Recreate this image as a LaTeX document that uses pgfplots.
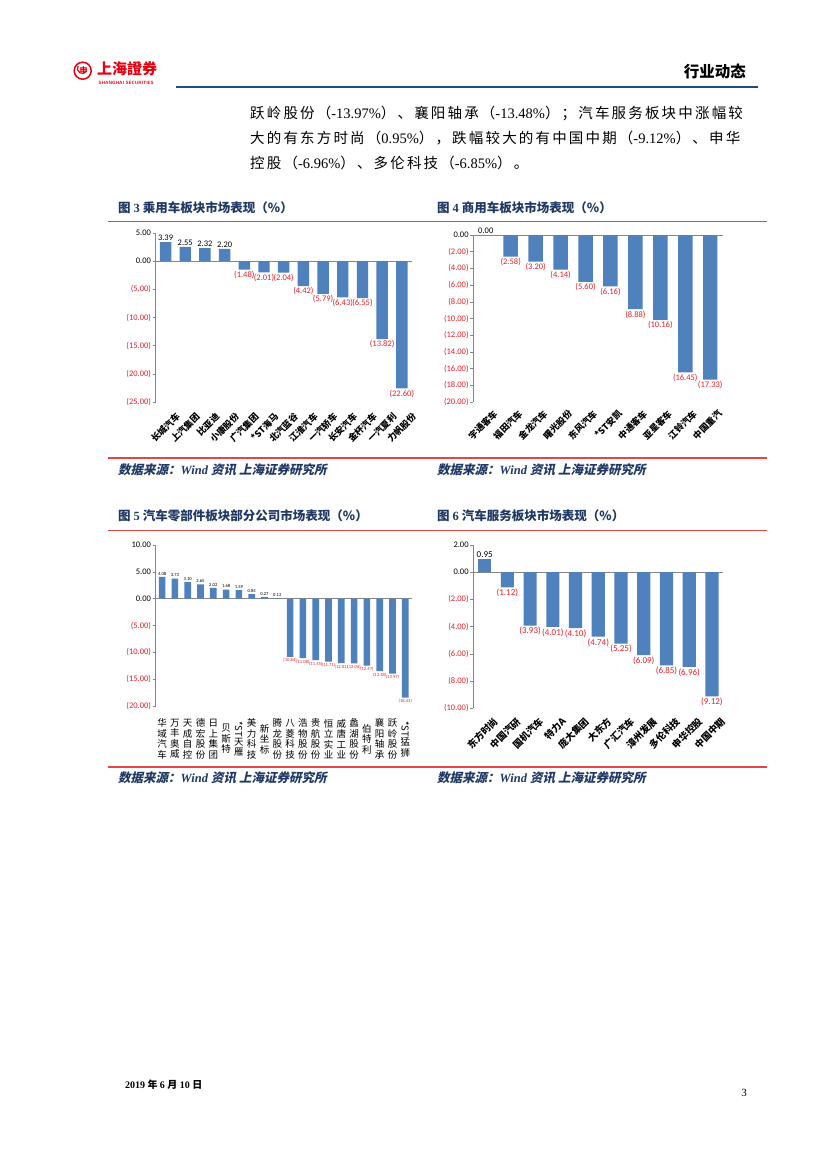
\documentclass[border=0pt]{standalone}
\usepackage{fontspec}
\setmainfont{Liberation Serif}
\newfontfamily\cjk{Noto Sans CJK SC}
\newfontfamily\cjkb{Noto Sans CJK SC}[LetterSpace=15]
\newfontfamily\cjksl{Noto Sans CJK SC}[FakeSlant=0.22]
\newfontfamily\numf{Carlito}
\usepackage{graphicx}
\usepackage{pgfplots}
\pgfplotsset{compat=1.18}

\definecolor{barblue}{HTML}{4F81BD}
\definecolor{negred}{HTML}{E8202A}
\definecolor{axgray}{HTML}{868686}
\definecolor{navy}{HTML}{1F3864}
\definecolor{linered}{HTML}{E04848}
\definecolor{hdrblue}{HTML}{1F4E79}
\definecolor{logored}{HTML}{E60012}

\newcommand\N[1]{\textcolor{negred}{(#1)}}

\pgfplotsset{
  sbar/.style={
    scale only axis, anchor=south west, clip=false,
    axis lines=left,
    axis line style={-, draw=axgray, line width=0.6pt},
    x axis line style={draw=none},
    xtick style={draw=none},
    ytick style={draw=axgray, line width=0.6pt},
    tick align=outside, major tick length=3pt,
    yticklabel style={font=\numf\fontsize{8.5}{10}\selectfont, inner sep=1.5pt},
    xticklabel style={font=\cjk\bfseries\fontsize{9}{10}\selectfont, inner sep=1pt},
  },
  zl/.style={draw=axgray, line width=0.6pt, forget plot},
  pos/.style={ybar, bar width=0.58, bar shift=0pt, fill=barblue, draw=none,
    point meta=explicit symbolic, nodes near coords={\pgfplotspointmeta},
    nodes near coords style={font=\numf\fontsize{8.5}{10}\selectfont, text=black, anchor=south, inner sep=1.5pt}},
  neg/.style={ybar, bar width=0.58, bar shift=0pt, fill=barblue, draw=none,
    point meta=explicit symbolic, nodes near coords={\pgfplotspointmeta},
    nodes near coords style={font=\numf\fontsize{8.5}{10}\selectfont, text=negred, anchor=north, inner sep=1.5pt}},
}

\begin{document}
\begin{tikzpicture}
\path[use as bounding box, fill=white] (0,0) rectangle (827pt,-1169pt);

% ---------- header ----------
\draw[logored, line width=1.5pt] (82.7pt,-70.7pt) circle (8.5pt);
\draw[logored, line width=1.2pt] (78pt,-66pt) arc (150:330:5pt);
\node[logored, inner sep=0] at (83.5pt,-70pt) {\cjk\bfseries\fontsize{8}{8}\selectfont 申};
\node[anchor=west, logored, inner sep=0] at (97pt,-68.5pt) {\cjk\bfseries\fontsize{15}{15}\selectfont 上海證券};
\node[anchor=west, logored, inner sep=0] at (98.5pt,-82.5pt) {\sffamily\bfseries\fontsize{4.6}{5}\selectfont SHANGHAI SECURITIES};
\node[anchor=east, inner sep=0] at (746pt,-72pt) {\cjk\bfseries\fontsize{15.5}{16}\selectfont 行业动态};
\draw[hdrblue, line width=2.6pt] (176pt,-87pt) -- (758pt,-87pt);

% ---------- body text ----------
\node[anchor=west, inner sep=0] at (250pt,-113pt) {\fontsize{14.5}{16}\selectfont\cjkb 跃岭股份（\rmfamily -13.97\%\cjkb ）、襄阳轴承（\rmfamily -13.48\%\cjkb ）；汽车服务板块中涨幅较};
\node[anchor=west, inner sep=0] at (250pt,-138pt) {\fontsize{14.5}{16}\selectfont\cjkb 大的有东方时尚（\rmfamily 0.95\%\cjkb ），跌幅较大的有中国中期（\rmfamily -9.12\%\cjkb ）、申华};
\node[anchor=west, inner sep=0] at (250pt,-163pt) {\fontsize{14.5}{16}\selectfont\cjkb 控股（\rmfamily -6.96\%\cjkb ）、多伦科技（\rmfamily -6.85\%\cjkb ）。};

% ---------- titles, rules, sources ----------
\node[anchor=west, inner sep=0, text=navy] at (118pt,-208pt) {\fontsize{12.5}{14}\selectfont\cjk\bfseries 图 \rmfamily\bfseries 3 \cjk\bfseries 乘用车板块市场表现（\%）};
\node[anchor=west, inner sep=0, text=navy] at (437pt,-208pt) {\fontsize{12.5}{14}\selectfont\cjk\bfseries 图 \rmfamily\bfseries 4 \cjk\bfseries 商用车板块市场表现（\%）};
\node[anchor=west, inner sep=0, text=navy] at (118pt,-516pt) {\fontsize{12.5}{14}\selectfont\cjk\bfseries 图 \rmfamily\bfseries 5 \cjk\bfseries 汽车零部件板块部分公司市场表现（\%）};
\node[anchor=west, inner sep=0, text=navy] at (437pt,-516pt) {\fontsize{12.5}{14}\selectfont\cjk\bfseries 图 \rmfamily\bfseries 6 \cjk\bfseries 汽车服务板块市场表现（\%）};

\draw[linered, line width=1.4pt] (108pt,-221.5pt) -- (767pt,-221.5pt);
\draw[linered, line width=1.4pt] (108pt,-458pt) -- (767pt,-458pt);
\draw[linered, line width=1.4pt] (108pt,-530.5pt) -- (767pt,-530.5pt);
\draw[linered, line width=1.4pt] (108pt,-767pt) -- (767pt,-767pt);

\foreach \sx/\sy in {118/470, 437/470, 118/778, 437/778}{
  \node[anchor=west, inner sep=0, text=navy] at (\sx pt,-\sy pt) {\fontsize{12.5}{14}\selectfont\cjksl\bfseries 数据来源：\rmfamily\bfseries\itshape Wind \cjksl\bfseries 资讯 上海证券研究所};
}

% ---------- chart 3 ----------
\begin{axis}[sbar, at={(155.7pt,-402pt)}, width=256pt, height=169pt,
  xmin=-0.5, xmax=12.5, ymin=-25, ymax=5,
  ytick={-25,-20,-15,-10,-5,0,5},
  yticklabels={\N{25.00},\N{20.00},\N{15.00},\N{10.00},\N{5.00},0.00,5.00},
  xtick={0,...,12},
  xticklabels={长城汽车,上汽集团,比亚迪,小康股份,广汽集团,*ST海马,北汽蓝谷,江淮汽车,一汽轿车,长安汽车,金杯汽车,一汽夏利,力帆股份},
  xticklabel style={rotate=45, anchor=east, yshift=-16pt, xshift=3pt},
]
\addplot[zl] coordinates {(-0.5,0) (12.5,0)};
\addplot[pos] coordinates {(0,3.39)[3.39] (1,2.55)[2.55] (2,2.32)[2.32] (3,2.20)[2.20]};
\addplot[neg] coordinates {(4,-1.48)[(1.48)] (5,-2.01)[(2.01)] (6,-2.04)[(2.04)] (7,-4.42)[(4.42)] (8,-5.79)[(5.79)] (9,-6.43)[(6.43)] (10,-6.55)[(6.55)] (11,-13.82)[(13.82)] (12,-22.60)[(22.60)]};
\end{axis}

% ---------- chart 4 ----------
\begin{axis}[sbar, at={(473.3pt,-402pt)}, width=249.4pt, height=167pt,
  xmin=-0.5, xmax=9.5, ymin=-20, ymax=0,
  ytick={-20,-18,-16,-14,-12,-10,-8,-6,-4,-2,0},
  yticklabels={\N{20.00},\N{18.00},\N{16.00},\N{14.00},\N{12.00},\N{10.00},\N{8.00},\N{6.00},\N{4.00},\N{2.00},0.00},
  xtick={0,...,9},
  xticklabels={宇通客车,福田汽车,金龙汽车,曙光股份,东风汽车,*ST安凯,中通客车,亚星客车,江铃汽车,中国重汽},
  xticklabel style={rotate=45, anchor=east, yshift=-12pt, xshift=3pt},
]
\addplot[zl] coordinates {(-0.5,0) (9.5,0)};
\addplot[pos] coordinates {(0,0)[0.00]};
\addplot[neg] coordinates {(1,-2.58)[(2.58)] (2,-3.20)[(3.20)] (3,-4.14)[(4.14)] (4,-5.60)[(5.60)] (5,-6.16)[(6.16)] (6,-8.88)[(8.88)] (7,-10.16)[(10.16)] (8,-16.45)[(16.45)] (9,-17.33)[(17.33)]};
\end{axis}

% ---------- chart 5 ----------
\begin{axis}[sbar, at={(155.7pt,-706pt)}, width=256pt, height=161pt,
  xmin=-0.5, xmax=19.5, ymin=-20, ymax=10,
  ytick={-20,-15,-10,-5,0,5,10},
  yticklabels={\N{20.00},\N{15.00},\N{10.00},\N{5.00},0.00,5.00,10.00},
  xtick={0,...,19},
  xticklabels={{华\\域\\汽\\车},{万\\丰\\奥\\威},{天\\成\\自\\控},{德\\宏\\股\\份},{日\\上\\集\\团},{贝\\斯\\特},{\rotatebox{-90}{*ST}\\天\\雁},{美\\力\\科\\技},{新\\坐\\标},{腾\\龙\\股\\份},{八\\菱\\科\\技},{浩\\物\\股\\份},{贵\\航\\股\\份},{恒\\立\\实\\业},{威\\唐\\工\\业},{蠡\\湖\\股\\份},{伯\\特\\利},{襄\\阳\\轴\\承},{跃\\岭\\股\\份},{\rotatebox{-90}{*ST}\\猛\\狮}},
  xticklabel style={font=\cjk\fontsize{9.5}{10.5}\selectfont, align=center, anchor=center, yshift=-30pt},
  pos/.append style={nodes near coords style={font=\numf\fontsize{4.6}{5}\selectfont}},
  neg/.append style={nodes near coords style={font=\numf\fontsize{4.6}{5}\selectfont}},
]
\addplot[zl] coordinates {(-0.5,0) (19.5,0)};
\addplot[pos, bar width=0.52] coordinates {(0,4.08)[4.08] (1,3.73)[3.73] (2,3.10)[3.10] (3,2.65)[2.65] (4,2.02)[2.02] (5,1.68)[1.68] (6,1.59)[1.59] (7,0.84)[0.84] (8,0.27)[0.27] (9,0.12)[0.12]};
\addplot[neg, bar width=0.52] coordinates {(10,-10.84)[(10.84)] (11,-11.08)[(11.08)] (12,-11.45)[(11.45)] (13,-11.71)[(11.71)] (14,-12.01)[(12.01)] (15,-12.06)[(12.06)] (16,-12.47)[(12.47)] (17,-13.48)[(13.48)] (18,-13.97)[(13.97)] (19,-18.43)[(18.43)]};
\end{axis}

% ---------- chart 6 ----------
\begin{axis}[sbar, at={(473.3pt,-708.3pt)}, width=250pt, height=163.3pt,
  xmin=-0.5, xmax=10.5, ymin=-10, ymax=2,
  ytick={-10,-8,-6,-4,-2,0,2},
  yticklabels={\N{10.00},\N{8.00},\N{6.00},\N{4.00},\N{2.00},0.00,2.00},
  xtick={0,...,10},
  xticklabels={东方时尚,中国汽研,国机汽车,特力A,庞大集团,大东方,广汇汽车,漳州发展,多伦科技,申华控股,中国中期},
  xticklabel style={rotate=45, anchor=east, yshift=-14pt, xshift=3pt, font=\cjk\bfseries\fontsize{9.5}{10}\selectfont},
  pos/.append style={nodes near coords style={font=\numf\fontsize{9}{10}\selectfont}},
  neg/.append style={nodes near coords style={font=\numf\fontsize{9}{10}\selectfont}},
]
\addplot[zl] coordinates {(-0.5,0) (10.5,0)};
\addplot[pos] coordinates {(0,0.95)[0.95]};
\addplot[neg] coordinates {(1,-1.12)[(1.12)] (2,-3.93)[(3.93)] (3,-4.01)[(4.01)] (4,-4.10)[(4.10)] (5,-4.74)[(4.74)] (6,-5.25)[(5.25)] (7,-6.09)[(6.09)] (8,-6.85)[(6.85)] (9,-6.96)[(6.96)] (10,-9.12)[(9.12)]};
\end{axis}

% ---------- footer ----------
\node[anchor=west, inner sep=0] at (125pt,-1085pt) {\fontsize{10}{11}\selectfont\bfseries 2019 \cjk\bfseries 年 \rmfamily\bfseries 6 \cjk\bfseries 月 \rmfamily\bfseries 10 \cjk\bfseries 日};
\node[inner sep=0] at (744pt,-1093pt) {\fontsize{11}{12}\selectfont 3};
\end{tikzpicture}
\end{document}
